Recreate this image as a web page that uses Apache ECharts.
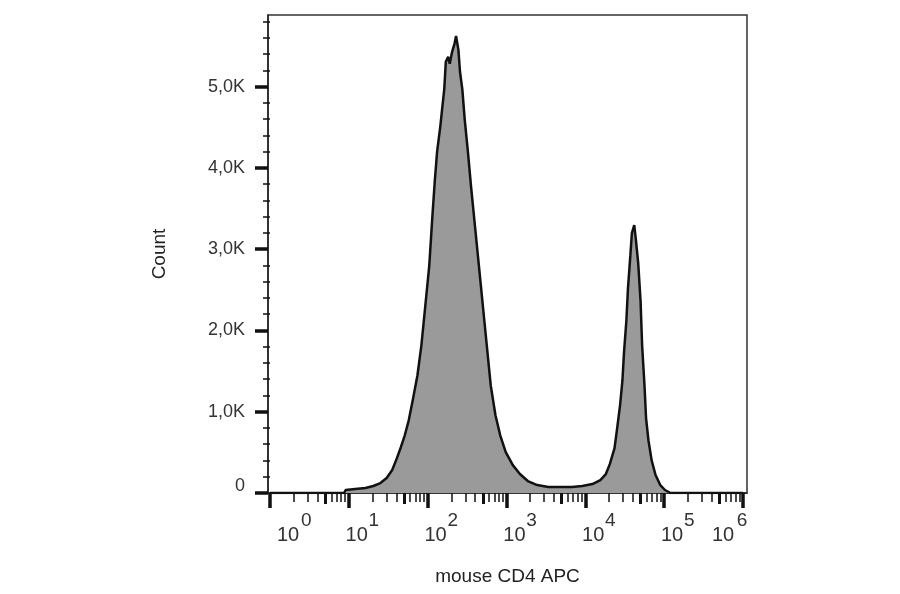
<!DOCTYPE html>
<html>
<head>
<meta charset="utf-8">
<script src="https://cdn.jsdelivr.net/npm/echarts@6/dist/echarts.min.js"></script>
<style>html,body{margin:0;padding:0;background:#fff;}#c{width:900px;height:594px;}</style>
</head>
<body>
<div id="c"></div>
<script>
// x values are log10 of fluorescence intensity
const logX = [0, 0.94, 0.96, 1.08, 1.21, 1.31, 1.40, 1.48, 1.55, 1.61, 1.66, 1.71, 1.76, 1.81, 1.87, 1.92, 1.97, 2.02, 2.06, 2.09, 2.12, 2.16, 2.18, 2.21, 2.23, 2.26, 2.28, 2.31, 2.34, 2.36, 2.39, 2.41, 2.44, 2.47, 2.51, 2.55, 2.60, 2.65, 2.70, 2.75, 2.80, 2.86, 2.92, 2.99, 3.08, 3.17, 3.27, 3.39, 3.53, 3.68, 3.83, 3.96, 4.09, 4.19, 4.26, 4.31, 4.37, 4.40, 4.44, 4.47, 4.49, 4.52, 4.54, 4.57, 4.59, 4.62, 4.64, 4.67, 4.70, 4.72, 4.75, 4.77, 4.80, 4.84, 4.89, 4.95, 5.01, 5.08, 6.0];
const counts = [0, 0, 37, 49, 61, 86, 122, 184, 282, 429, 563, 710, 894, 1139, 1445, 1813, 2303, 2793, 3405, 3834, 4202, 4508, 4692, 4961, 5304, 5365, 5280, 5427, 5525, 5623, 5451, 5182, 4961, 4594, 4202, 3773, 3283, 2793, 2303, 1813, 1323, 956, 710, 502, 343, 233, 147, 98, 74, 74, 74, 86, 110, 159, 233, 355, 551, 772, 1078, 1384, 1727, 2119, 2511, 2916, 3197, 3295, 3124, 2830, 2364, 1813, 1323, 919, 649, 404, 221, 98, 37, 0, 0];

const xMajorExp = [0, 1, 2, 3, 4, 5, 6];
const xMinorMult = [2, 3, 4, 6, 7, 8, 9];
const xMidMult = [5];
const yMajorTicks = [0, 1000, 2000, 3000, 4000, 5000];
const yMinorTicks = [200, 400, 600, 800, 1200, 1400, 1600, 1800, 2200, 2400, 2600, 2800, 3200, 3400, 3600, 3800, 4200, 4400, 4600, 4800, 5200, 5400, 5600, 5800];
const xName = 'mouse CD4 APC';
const yName = 'Count';

const X_MIN = -0.025, X_MAX = 6.05, Y_MAX = 5880;
const FONT = "'Liberation Sans', Arial, sans-serif";

const minorPos = [], midPos = [];
xMajorExp.slice(0, -1).forEach(e => {
  xMinorMult.forEach(m => minorPos.push(e + Math.log10(m)));
  xMidMult.forEach(m => midPos.push(e + Math.log10(m)));
});
// label anchor shifts (style only): "10" base and exponent placed right of tick, ends pushed inward
const last = xMajorExp.length - 1;
const baseShift = i => i === 0 ? 0.23 : (i === last ? -0.254 : 0.10);
const expShift = i => i === 0 ? 0.46 : (i === last ? -0.013 : 0.317);
const basePos = xMajorExp.map((e, i) => e + baseShift(i));
const expPos = xMajorExp.map((e, i) => e + expShift(i));
const nearestExp = v => xMajorExp.reduce((a, b) => Math.abs(b - v) < Math.abs(a - v) ? b : a);

const axisColor = '#222';
const baseX = {
  type: 'value', min: X_MIN, max: X_MAX, position: 'bottom',
  splitLine: { show: false }, axisLine: { show: false },
  axisLabel: { show: false }, axisTick: { show: false }
};

const chart = echarts.init(document.getElementById('c'), null, { renderer: 'canvas' });
chart.setOption({
  animation: false,
  backgroundColor: '#fff',
  grid: { left: 268, right: 153, top: 15, bottom: 101, show: true, borderColor: '#333', borderWidth: 1.5, backgroundColor: 'transparent' },
  xAxis: [
    Object.assign({}, baseX, {
      axisLine: { show: true, onZero: false, lineStyle: { color: axisColor, width: 1.5 } },
      axisTick: { show: true, customValues: xMajorExp, length: 15, lineStyle: { color: '#111', width: 3.5 } },
      name: xName, nameLocation: 'middle', nameGap: 74,
      nameTextStyle: { fontSize: 19, fontFamily: FONT, color: '#222' }
    }),
    Object.assign({}, baseX, {
      axisTick: { show: true, customValues: minorPos, length: 9, lineStyle: { color: '#111', width: 1.5 } }
    }),
    Object.assign({}, baseX, {
      axisTick: { show: true, customValues: midPos, length: 11, lineStyle: { color: '#111', width: 3 } }
    }),
    Object.assign({}, baseX, {
      axisLabel: {
        show: true, customValues: basePos, align: 'center', verticalAlign: 'top', margin: 32,
        fontSize: 20, lineHeight: 20, fontFamily: FONT, color: '#333',
        formatter: () => '10'
      }
    }),
    Object.assign({}, baseX, {
      axisLabel: {
        show: true, customValues: expPos, align: 'center', verticalAlign: 'top', margin: 18,
        fontSize: 19, lineHeight: 19, fontFamily: FONT, color: '#333',
        formatter: v => String(nearestExp(v))
      }
    })
  ],
  yAxis: [
    {
      type: 'value', min: 0, max: Y_MAX, position: 'left',
      splitLine: { show: false },
      axisLine: { show: true, onZero: false, lineStyle: { color: axisColor, width: 1.5 } },
      axisTick: { show: true, customValues: yMajorTicks, length: 13, lineStyle: { color: '#111', width: 3.5 } },
      axisLabel: {
        customValues: yMajorTicks, margin: 23, fontSize: 18, fontFamily: FONT, color: '#333',
        formatter: v => v === 0 ? '{z|0}' : (v / 1000).toFixed(1).replace('.', ',') + 'K',
        rich: { z: { fontSize: 18, fontFamily: FONT, color: '#333', padding: [0, 0, 14, 0] } }
      },
      name: yName, nameLocation: 'middle', nameGap: 99,
      nameTextStyle: { fontSize: 19, fontFamily: FONT, color: '#222' }
    },
    {
      type: 'value', min: 0, max: Y_MAX, position: 'left',
      splitLine: { show: false }, axisLine: { show: false }, axisLabel: { show: false },
      axisTick: { show: true, customValues: yMinorTicks, length: 7, lineStyle: { color: '#111', width: 1.5 } }
    }
  ],
  series: [{
    type: 'line',
    xAxisIndex: 0, yAxisIndex: 0,
    data: logX.map((x, i) => [x, counts[i]]),
    showSymbol: false, symbol: 'none',
    lineStyle: { color: '#111', width: 2.5 },
    areaStyle: { color: '#9a9a9a', opacity: 1 },
    z: 5
  }]
});
</script>
</body>
</html>
